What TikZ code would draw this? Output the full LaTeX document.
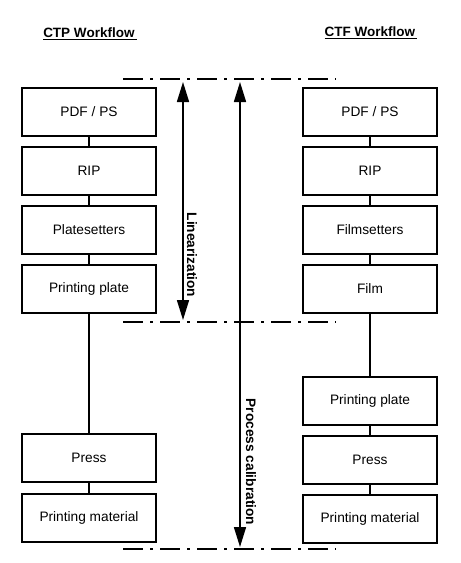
\documentclass[tikz,border=0pt]{standalone}
\usepackage{fontspec}
\setmainfont{Liberation Sans}
\usetikzlibrary{positioning,arrows.meta}
\begin{document}
\begin{tikzpicture}[x=1pt,y=1pt]
                        \tikzstyle{box}=[draw, line width=2pt, minimum width=134pt, minimum height=48pt, inner sep=0pt, font=\fontsize{13.7}{16}\selectfont]
                        \tikzstyle{link}=[line width=1.6pt]
                        \tikzstyle{dashdot}=[line width=1.8pt, dash pattern=on 20pt off 7pt on 3pt off 7pt]
                        \tikzstyle{span}=[line width=1.6pt, {Triangle[length=20pt,width=12pt]}-{Triangle[length=20pt,width=12pt]}]
                        \tikzstyle{lbl}=[font=\bfseries\fontsize{13.7}{16}\selectfont, rotate=-90, inner sep=0pt]
                        \tikzstyle{title}=[font=\bfseries\fontsize{13.5}{16}\selectfont, inner sep=0pt]
                        \useasboundingbox (0,0) rectangle (461,-563);
                        % titles
                        \node[title] (ctp) at (90,-34) {\underline{CTP Workflow\,}};
                        \node[title] (ctf) at (371,-33) {\underline{CTF Workflow\,}};
                        % CTP column
                        \node[box] (pdfA) at (89,-112) {PDF / PS};
                        \node[box, below=9pt of pdfA] (ripA) {RIP};
                        \node[box, below=9pt of ripA] (setA) {Platesetters};
                        \node[box, below=9pt of setA] (plateA) {Printing plate};
                        \node[box, below=119pt of plateA] (pressA) {Press};
                        \node[box, below=10pt of pressA] (matA) {Printing material};
                        % CTF column
                        \node[box] (pdfB) at (370,-112) {PDF / PS};
                        \node[box, below=9pt of pdfB] (ripB) {RIP};
                        \node[box, below=9pt of ripB] (setB) {Filmsetters};
                        \node[box, below=9pt of setB] (filmB) {Film};
                        \node[box, below=62pt of filmB] (plateB) {Printing plate};
                        \node[box, below=9pt of plateB] (pressB) {Press};
                        \node[box, below=9pt of pressB] (matB) {Printing material};
                        \draw[link] (pdfA) -- (ripA) -- (setA) -- (plateA) -- (pressA) -- (matA);
                        \draw[link] (pdfB) -- (ripB) -- (setB) -- (filmB) -- (plateB) -- (pressB) -- (matB);
                        % dash-dot limits
                        \coordinate (topW) at (123,-79);
                        \coordinate (topE) at (336,-79);
                        \coordinate (midW) at (123,-322);
                        \coordinate (midE) at (336,-322);
                        \coordinate (botW) at (123,-549);
                        \coordinate (botE) at (336,-549);
                        \draw[dashdot] (topW) -- (topE);
                        \draw[dashdot] (midW) -- (midE);
                        \draw[dashdot] (botW) -- (botE);
                        % ranges
                        \coordinate (linT) at (183,-82);
                        \coordinate (linB) at (183,-320);
                        \coordinate (calT) at (240,-82);
                        \coordinate (calB) at (240,-547);
                        \draw[span] (linT) -- (linB);
                        \draw[span] (calT) -- (calB);
                        \node[lbl] (linText) at (192,-255) {Linearization};
                        \node[lbl] (calText) at (251,-462) {Process calibration};
                    \end{tikzpicture}
\end{document}
